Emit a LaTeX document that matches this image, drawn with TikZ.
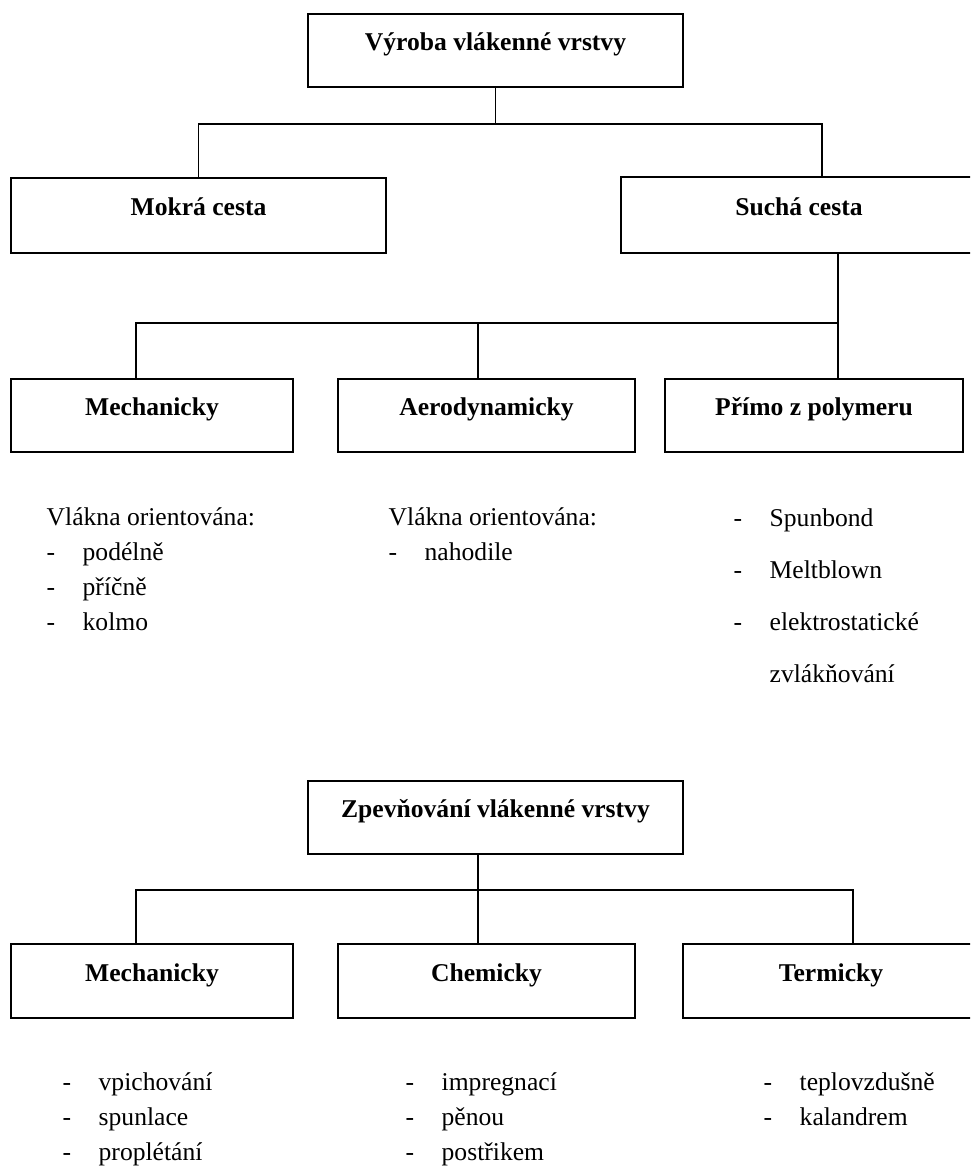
\documentclass[tikz,border=0pt]{standalone}
\usepackage{fontspec}
\setmainfont{Liberation Serif}
\usetikzlibrary{positioning,calc}
\newcommand{\itm}{\makebox[18pt][l]{-}}

\begin{document}
\begin{tikzpicture}[x=0.5pt, y=-0.5pt, line width=0.7pt,
  box/.style={draw, line width=1pt, minimum height=36.5pt, inner sep=0pt, font=\fontsize{12.8}{15}\selectfont\bfseries, text height=8pt, text depth=8pt},
  list/.style={anchor=north west, inner sep=0pt, align=left, font=\fontsize{12.8}{17.5}\selectfont}]
  \useasboundingbox (0,0) rectangle (970,1168);
  \fill[white] (0,0) rectangle (970,1168);
  \clip (0,0) rectangle (970,1168);

  % vyroba
  \node[box, minimum width=187.5pt] (vyroba) at (495.5,50.5) {Výroba vlákenné vrstvy};
  \node[box, minimum width=187.5pt, minimum height=37.5pt] (mokra) at (198.5,215) {Mokrá cesta};
  \node[box, minimum width=178pt, minimum height=38pt] (sucha) at (799,215) {Suchá cesta};
  \node[box, minimum width=141pt] (mech1) at (152,415.5) {Mechanicky};
  \node[box, minimum width=148.5pt] (aero) at (486.5,415.5) {Aerodynamicky};
  \node[box, minimum width=149pt] (primo) at (814,415.5) {Přímo z polymeru};

  \coordinate (j1) at (495.5,124);
  \draw (vyroba.south) -- (j1);
  \draw (mokra.north) |- (j1) -| ($(sucha.north)+(23,0)$);

  \coordinate (j2) at (838,323);
  \coordinate (a1) at ($(aero.north)+(-8.5,0)$);
  \draw ($(sucha.south)+(39,0)$) -- ($(primo.north)+(24,0)$);
  \draw ($(mech1.north)+(-16,0)$) |- (j2);
  \draw (a1) -- (a1 |- j2);

  \node[list] (l1) at (46,507) {Vlákna orientována:\\\itm podélně\\\itm příčně\\\itm kolmo};
  \node[list] (l2) at (388,507) {Vlákna orientována:\\\itm nahodile};
  \node[list, font=\fontsize{12.8}{26}\selectfont] (l3) at (733,508) {\itm Spunbond\\\itm Meltblown\\\itm elektrostatické\\\hspace*{18pt}zvlákňování};

  % zpevnovani
  \node[box, minimum width=187.5pt] (zpev) at (495.5,817.5) {Zpevňování vlákenné vrstvy};
  \node[box, minimum width=141pt, minimum height=37pt] (mech2) at (152,981) {Mechanicky};
  \node[box, minimum width=148.5pt, minimum height=37pt] (chem) at (486.5,981) {Chemicky};
  \node[box, minimum width=148pt, minimum height=37pt] (term) at (831,981) {Termicky};

  \coordinate (j3) at (478,890);
  \draw ($(zpev.south)+(-17.5,0)$) -- ($(chem.north)+(-8.5,0)$);
  \draw ($(mech2.north)+(-16,0)$) |- (j3) -| ($(term.north)+(22,0)$);

  \node[list] (l4) at (62,1072) {\itm vpichování\\\itm spunlace\\\itm proplétání};
  \node[list] (l5) at (405,1072) {\itm impregnací\\\itm pěnou\\\itm postřikem};
  \node[list] (l6) at (763,1072) {\itm teplovzdušně\\\itm kalandrem};
\end{tikzpicture}
\end{document}
